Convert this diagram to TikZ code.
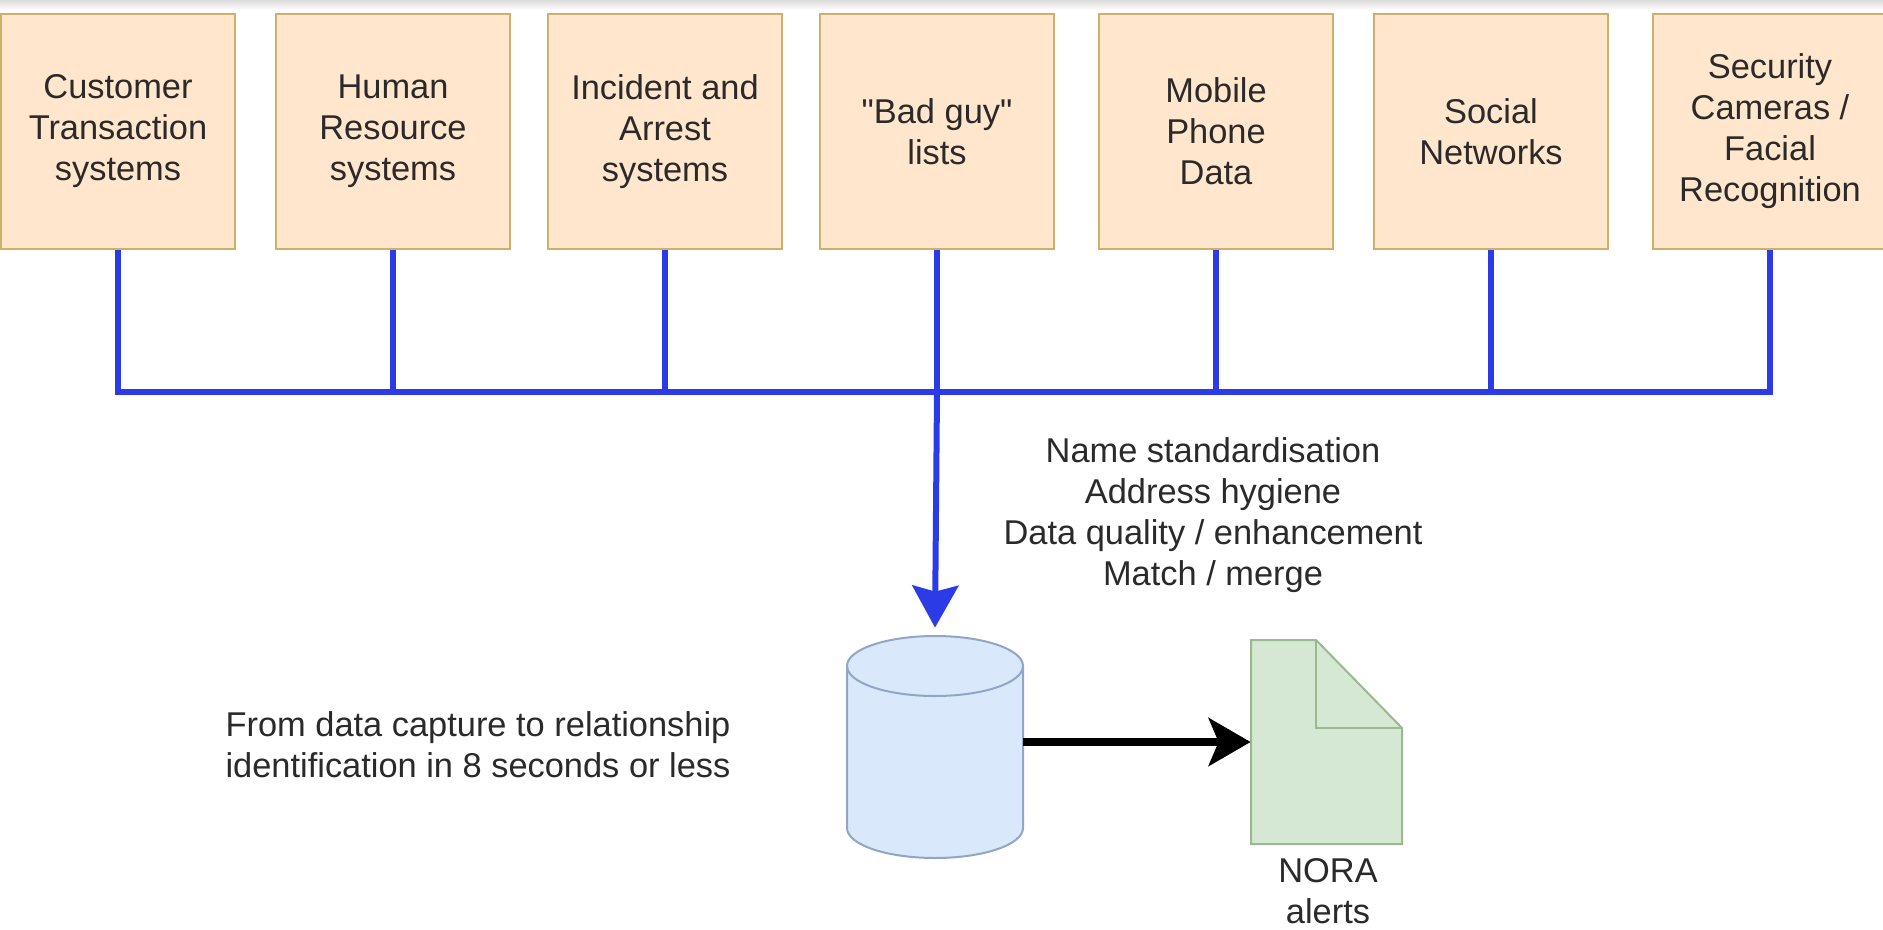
\documentclass[tikz,border=0pt]{standalone}
\usepackage{fontspec}
\setmainfont{Liberation Sans}
\newfontfamily\plainsans{Liberation Sans}
\usetikzlibrary{arrows.meta}
\definecolor{boxfill}{HTML}{FFE6CC}
\definecolor{boxline}{HTML}{CDB16A}
\definecolor{busblue}{HTML}{2B3BE6}
\definecolor{dbfill}{HTML}{DAE8FC}
\definecolor{dbline}{HTML}{8FA6C4}
\definecolor{docfill}{HTML}{D5E8D4}
\definecolor{docline}{HTML}{9CB891}
\definecolor{txt}{HTML}{2A2A2A}
\begin{document}
\begin{tikzpicture}[x=0.5pt,y=-0.5pt,
  src/.style={draw=boxline, fill=boxfill, line width=1.2pt, minimum width=117pt,
    minimum height=117.5pt, align=center, text=txt, inner sep=0pt,
    font=\fontsize{17.2}{20.5}\selectfont},
  busline/.style={draw=busblue, line width=3pt},
  lbl/.style={align=center, text=txt, inner sep=0pt, font=\fontsize{17.2}{20.5}\selectfont}]
\fill[white] (0,0) rectangle (1883,930);
\shade[top color=black!14, bottom color=white] (0,0) rectangle (1883,10);
\useasboundingbox (0,0) rectangle (1883,930);

\node[src] (s1) at (118,131.5) {Customer\\Transaction\\systems};
\node[src] (s2) at (393,131.5) {Human\\Resource\\systems};
\node[src] (s3) at (665,131.5) {Incident and\\Arrest\\systems};
\node[src, font=\plainsans\fontsize{17.2}{20.5}\selectfont] (s4) at (937,131.5) {"Bad guy"\\lists};
\node[src] (s5) at (1216,131.5) {Mobile\\Phone\\Data};
\node[src] (s6) at (1491,131.5) {Social\\Networks};
\node[src] (s7) at (1770,131.5) {Security\\Cameras /\\Facial\\Recognition};

\coordinate (bc) at (937,392);

% database
\node[minimum width=88pt, minimum height=111pt, inner sep=0pt] (db) at (935,747) {};
\filldraw[fill=dbfill, draw=dbline, line width=1pt]
  (847,666) -- (847,828) arc[start angle=180, end angle=360, x radius=44pt, y radius=15pt]
  -- (1023,666) arc[start angle=0, end angle=180, x radius=44pt, y radius=15pt] -- cycle;
\draw[dbline, line width=1pt] (847,666) arc[start angle=180, end angle=360, x radius=44pt, y radius=15pt];

% document
\node[minimum width=75.5pt, minimum height=102pt, inner sep=0pt] (doc) at (1326.5,742) {};
\filldraw[fill=docfill, draw=docline, line width=1pt, line join=miter]
  (1251,640) -- (1316,640) -- (1402,728) -- (1402,844) -- (1251,844) -- cycle;
\draw[docline, line width=1pt] (1316,640) -- (1316,728) -- (1402,728);

% bus
\draw[busline] (s1.south) |- (s7.south |- bc) -- (s7.south);
\foreach \i in {2,3,4,5,6} { \draw[busline] (s\i.south) -- (s\i.south |- bc); }
\draw[busline, -{Stealth[length=21pt, width=23pt, inset=3pt]}] (bc) -- ([yshift=4pt]db.north);

% output arrow
\draw[black, line width=3.6pt, -{Stealth[length=21pt, width=24pt, inset=5pt]}] (db.east |- doc.west) -- (doc.west);

% labels
\node[lbl] (nora) at (1328,891) {NORA\\alerts};
\node[lbl] (steps) at (1213,515) {Name standardisation\\Address hygiene\\Data quality / enhancement\\Match / merge};
\node[lbl] (note) at (478,745) {From data capture to relationship\\identification in 8 seconds or less};
\end{tikzpicture}
\end{document}
